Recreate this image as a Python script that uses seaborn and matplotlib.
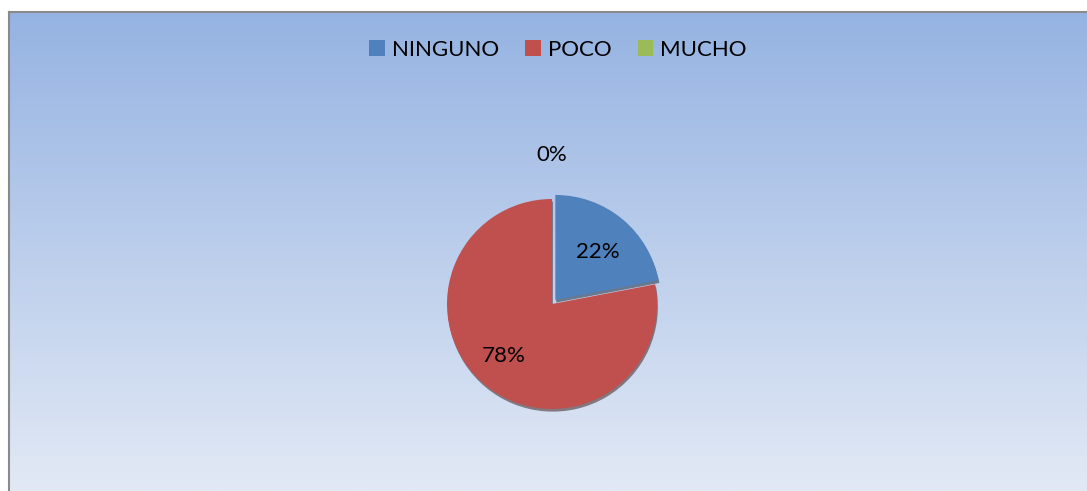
import numpy as np
import matplotlib
matplotlib.use("Agg")
import matplotlib.pyplot as plt
import seaborn as sns
from matplotlib.patches import Patch

categories = ["NINGUNO", "POCO", "MUCHO"]
values = [22, 78, 0]
pct_labels = ["22%", "78%", "0%"]

sns.set_style("white")
plt.rcParams["font.family"] = ["Lato", "DejaVu Sans"]
colors = ["#4f81bd", "#c0504d", "#9bbb59"]

W, H = 1087, 491
fig = plt.figure(figsize=(W / 100, H / 100), dpi=100)
fig.patch.set_facecolor("white")

# gradient background panel
bg = fig.add_axes([9 / W, 0, (W - 9) / W, (H - 12) / H])
top = np.array([149, 179, 226]) / 255
bot = np.array([226, 233, 245]) / 255
t = np.linspace(0, 1, 256)[:, None]
grad = (top * (1 - t) + bot * t)[:, None, :]
bg.imshow(grad, aspect="auto", extent=[0, 1, 0, 1], origin="upper")
bg.set_xlim(0, 1)
bg.set_ylim(0, 1)
bg.set_xticks([])
bg.set_yticks([])
for s in ["right", "bottom"]:
    bg.spines[s].set_visible(False)
for s in ["left", "top"]:
    bg.spines[s].set_color("#8a8a8a")
    bg.spines[s].set_linewidth(1.5)

# pie axes
r = 105
cx, cy = 552, H - 304
half = 170
ax = fig.add_axes([(cx - half) / W, (cy - half) / H, 2 * half / W, 2 * half / H])

wedges, texts = ax.pie(values, colors=colors, startangle=90, counterclock=False,
                       explode=[0.05, 0, 0], radius=1,
                       wedgeprops=dict(linewidth=0),
                       shadow={"ox": 0.006, "oy": -0.018, "shade": 0.75})
ax.set_xlim(-half / r, half / r)
ax.set_ylim(-half / r, half / r)
ax.set_aspect("equal")
ax.axis("off")

# percentage labels
mid_r = 0.64
angles = []
start = 90
total = sum(values)
for v in values:
    span = v / total * 360
    angles.append(start - span / 2)
    start -= span
for i, (lab, a) in enumerate(zip(pct_labels, angles)):
    d = mid_r if values[i] > 0 else 1.42
    dx = 0.03 if i == 0 else (-0.05 if i == 1 else 0)
    ax.text(d * np.cos(np.radians(a)) + dx,
            d * np.sin(np.radians(a)), lab, ha="center", va="center",
            fontsize=16, color="black")

handles = [Patch(facecolor=c, edgecolor="none") for c in colors]
fig.legend(handles, categories, loc="center", bbox_to_anchor=(558 / W, 1 - 50 / H),
           ncol=3, frameon=False, fontsize=16, handlelength=0.7, handleheight=0.7,
           handletextpad=0.3, columnspacing=1.2, labelcolor="black")

fig.savefig("out.png", dpi=100)
